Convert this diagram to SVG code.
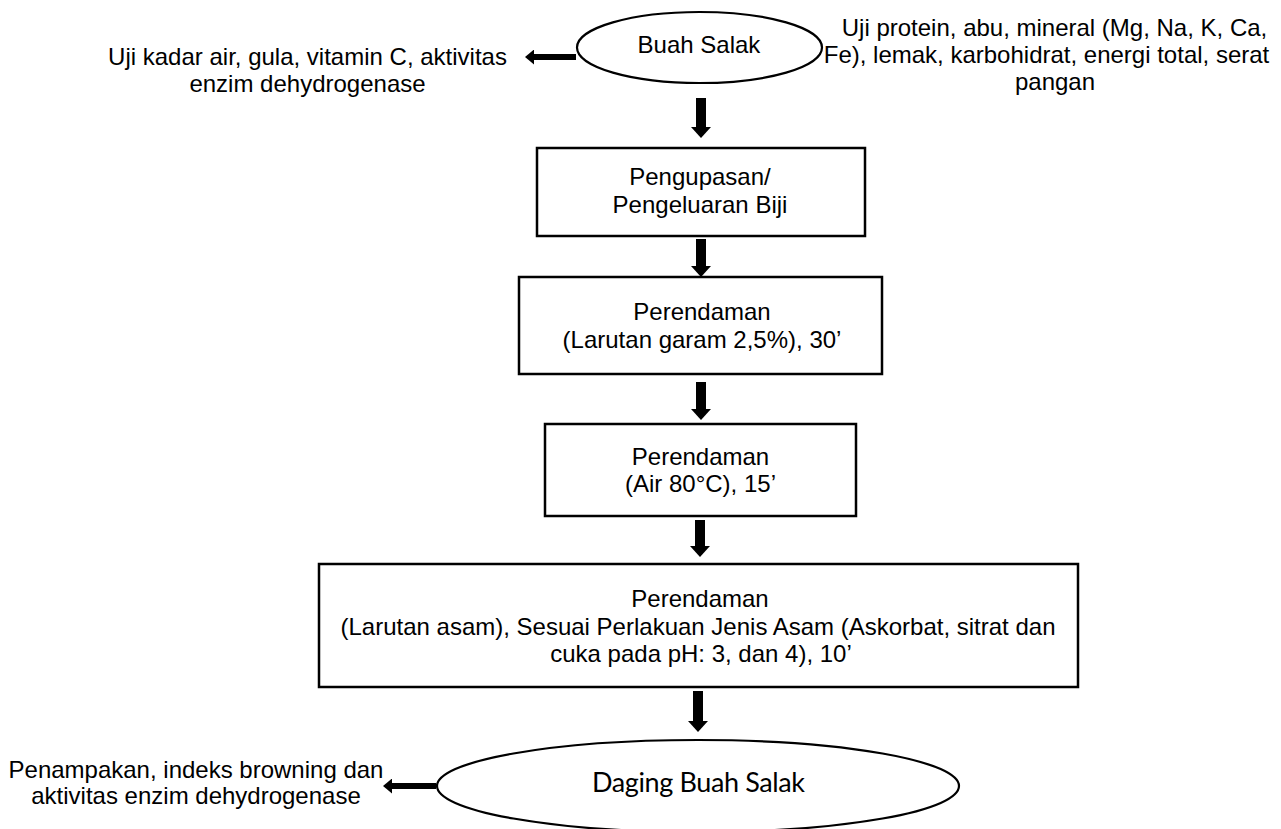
<svg xmlns="http://www.w3.org/2000/svg" width="1281" height="829" viewBox="0 0 1281 829">
<style>
  text { font-family: "Liberation Sans", Arial, sans-serif; font-size: 24px; fill: #000; text-anchor: middle; }
  .cal { font-family: Lato, "Open Sans", sans-serif; font-size: 27px; }
  .shape { fill: #fff; stroke: #000; stroke-width: 2.5; }
  .oval { fill: #fff; stroke: #000; stroke-width: 2.2; }
  .v { stroke: #000; stroke-width: 10; fill: none; marker-end: url(#headV); }
  .h { stroke: #000; stroke-width: 6; fill: none; marker-end: url(#headH); }
</style>
<defs>
  <marker id="headV" markerUnits="userSpaceOnUse" viewBox="0 0 11 20" refX="0" refY="10" markerWidth="11" markerHeight="20" orient="auto">
    <path d="M0,0 L11,10 L0,20 Z" fill="#000"/>
  </marker>
  <marker id="headH" markerUnits="userSpaceOnUse" viewBox="0 0 9 15" refX="0" refY="7.5" markerWidth="9" markerHeight="15" orient="auto">
    <path d="M0,0 L9,7.5 L0,15 Z" fill="#000"/>
  </marker>
</defs>
<rect width="1281" height="829" fill="#fff"/>

<g id="connectors">
  <line class="h" x1="576" y1="57" x2="534" y2="57"/>
  <line class="v" x1="701" y1="98" x2="701" y2="127"/>
  <line class="v" x1="701" y1="239" x2="701" y2="266"/>
  <line class="v" x1="701" y1="382" x2="701" y2="409"/>
  <line class="v" x1="700" y1="520" x2="700" y2="546"/>
  <line class="v" x1="698" y1="691" x2="698" y2="721"/>
  <line class="h" x1="436" y1="786" x2="392" y2="786"/>
</g>

<g id="buah-salak">
  <ellipse class="oval" cx="699.5" cy="47.5" rx="122.5" ry="35.5"/>
  <text x="699" y="53">Buah Salak</text>
</g>

<g id="uji-kiri">
  <text x="307.5" y="65">Uji kadar air, gula, vitamin C, aktivitas</text>
  <text x="307.5" y="92">enzim dehydrogenase</text>
</g>

<g id="uji-kanan">
  <text x="1054.5" y="36">Uji protein, abu, mineral (Mg, Na, K, Ca,</text>
  <text x="1046.5" y="63">Fe), lemak, karbohidrat, energi total, serat</text>
  <text x="1055" y="90">pangan</text>
</g>

<g id="pengupasan">
  <rect class="shape" x="537" y="148" width="328" height="88"/>
  <text x="700" y="185">Pengupasan/</text>
  <text x="700" y="213">Pengeluaran Biji</text>
</g>

<g id="perendaman-garam">
  <rect class="shape" x="519" y="277" width="363" height="97"/>
  <text x="702" y="320">Perendaman</text>
  <text x="702" y="348">(Larutan garam 2,5%), 30’</text>
</g>

<g id="perendaman-air">
  <rect class="shape" x="545" y="424" width="311" height="92"/>
  <text x="700.5" y="465">Perendaman</text>
  <text x="700.5" y="492">(Air 80°C), 15’</text>
</g>

<g id="perendaman-asam">
  <rect class="shape" x="319" y="564" width="759" height="123"/>
  <text x="700" y="607">Perendaman</text>
  <text x="698" y="634.5">(Larutan asam), Sesuai Perlakuan Jenis Asam (Askorbat, sitrat dan</text>
  <text x="701" y="662">cuka pada pH: 3, dan 4), 10’</text>
</g>

<g id="daging-buah-salak">
  <ellipse class="oval" cx="698" cy="786" rx="261" ry="46"/>
  <text class="cal" x="698.5" y="792" textLength="213">Daging Buah Salak</text>
</g>

<g id="uji-akhir">
  <text x="196" y="778">Penampakan, indeks browning dan</text>
  <text x="196" y="804">aktivitas enzim dehydrogenase</text>
</g>
</svg>
